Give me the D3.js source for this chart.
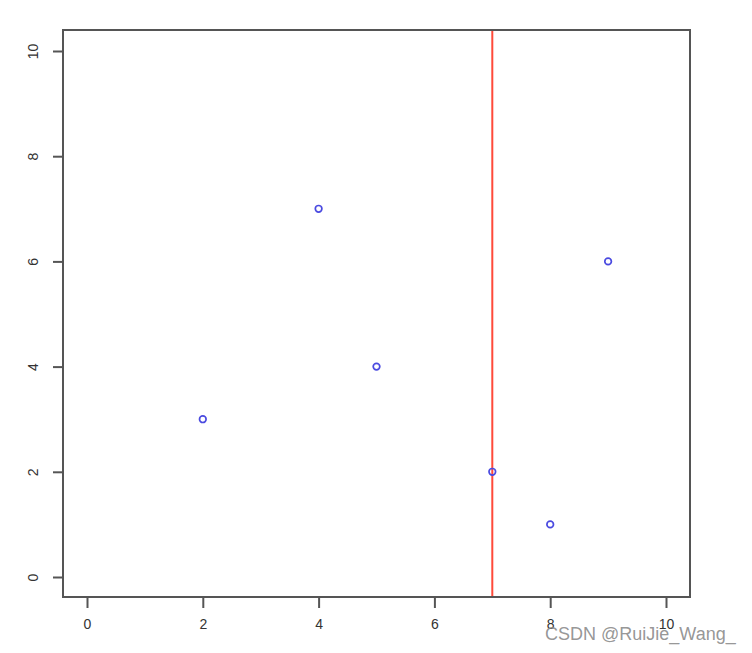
<!DOCTYPE html>
<html>
<head>
<meta charset="utf-8">
<script src="https://cdn.jsdelivr.net/npm/d3@7"></script>
<style>
html,body{margin:0;padding:0;background:#fff;}
svg{display:block;}
</style>
</head>
<body>
<svg id="chart" width="752" height="653"></svg>
<script>
const xValues = [2, 4, 5, 7, 8, 9];
const yValues = [3, 7, 4, 2, 1, 6];
const xTicks = [0, 2, 4, 6, 8, 10];
const yTicks = [0, 2, 4, 6, 8, 10];
const vLine = 7;

const svg = d3.select("#chart");
const box = {left: 63, top: 30, right: 690, bottom: 597};

const x = d3.scaleLinear().domain([0, 10]).range([87, 666]);
const y = d3.scaleLinear().domain([0, 10]).range([577, 51]);

const axisColor = "#555";
const textColor = "#333";
const font = "Liberation Sans, Arial, sans-serif";

// red vertical line
svg.append("line")
  .attr("x1", x(vLine)).attr("x2", x(vLine))
  .attr("y1", box.top).attr("y2", box.bottom)
  .attr("stroke", "#ff4a3a").attr("stroke-width", 2);

// points
svg.selectAll("circle.pt").data(xValues).enter().append("circle")
  .attr("class", "pt")
  .attr("cx", (d) => x(d))
  .attr("cy", (d, i) => y(yValues[i]))
  .attr("r", 3.3)
  .attr("fill", "none")
  .attr("stroke", "#4a4ae0")
  .attr("stroke-width", 1.7);

// box
svg.append("rect")
  .attr("x", box.left).attr("y", box.top)
  .attr("width", box.right - box.left).attr("height", box.bottom - box.top)
  .attr("fill", "none").attr("stroke", axisColor).attr("stroke-width", 2);

// x axis
const xAxis = d3.axisBottom(x).tickValues(xTicks).tickSize(11).tickPadding(11).tickFormat(d3.format("d"));
const gx = svg.append("g").attr("transform", `translate(0,${box.bottom})`).call(xAxis);
gx.select(".domain").remove();
gx.selectAll(".tick line").attr("stroke", axisColor).attr("stroke-width", 2);
gx.selectAll(".tick text").attr("fill", textColor).attr("font-size", 14).attr("font-family", font);

// y axis
const yAxis = d3.axisLeft(y).tickValues(yTicks).tickSize(10).tickPadding(0).tickFormat(d3.format("d"));
const gy = svg.append("g").attr("transform", `translate(${box.left},0)`).call(yAxis);
gy.select(".domain").remove();
gy.selectAll(".tick line").attr("stroke", axisColor).attr("stroke-width", 2);
gy.selectAll(".tick text")
  .attr("fill", textColor).attr("font-size", 14).attr("font-family", font)
  .attr("x", null)
  .attr("text-anchor", "middle")
  .attr("transform", "translate(-30,0) rotate(-90)")
  .attr("dy", "0.35em");

// watermark
svg.append("text")
  .attr("x", 545).attr("y", 640)
  .attr("font-family", font)
  .attr("font-size", 18)
  .attr("fill", "#8a8a8a")
  .attr("fill-opacity", 0.9)
  .text("CSDN @RuiJie_Wang_");
</script>
</body>
</html>
